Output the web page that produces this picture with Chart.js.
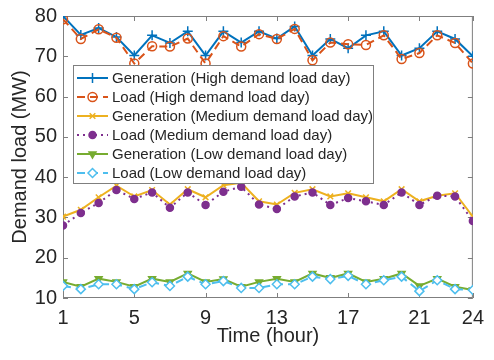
<!DOCTYPE html>
<html>
<head>
<meta charset="utf-8">
<script src="https://cdn.jsdelivr.net/npm/chart.js@4"></script>
<style>
  html, body { margin: 0; padding: 0; background: #fff; }
  #wrap { width: 494px; height: 360px; }
</style>
</head>
<body>
<div id="wrap"><canvas id="chart" width="494" height="360"></canvas></div>
<script>
// hours on the x axis
const hours = [1,2,3,4,5,6,7,8,9,10,11,12,13,14,15,16,17,18,19,20,21,22,23,24];
const xTicks = [1, 5, 9, 13, 17, 21, 24];
const yTicks = [10, 20, 30, 40, 50, 60, 70, 80];

// High demand load day
const genHigh  = [80, 75.3, 77, 74.8, 70.2, 75.2, 73.3, 76.2, 70.2, 76.2, 73.4, 76.2, 74.4, 77.4, 70.2, 74.3, 72, 75.2, 76.2, 70.2, 72, 76.2, 74.3, 70];
const loadHigh = [79.2, 74.3, 76.7, 74.6, 68.2, 72.5, 72.4, 74.4, 68.2, 75, 72.4, 75.5, 74.3, 76.8, 69, 73.4, 73, 72.8, 75.2, 69.3, 70.8, 75.2, 73.3, 68.2];
// Medium demand load day
const genMed   = [30.2, 31.9, 35, 37.9, 35.2, 36.8, 33.2, 37, 35, 38, 38.6, 34, 33.2, 36.1, 37, 35.2, 36, 35, 34, 37, 34, 35.4, 36, 30.2];
const loadMed  = [28, 31.1, 33.6, 36.8, 34.6, 36.2, 32.4, 36.2, 33.1, 36.4, 37.6, 33.2, 32.1, 35.2, 36.2, 33.1, 34.8, 34, 33.1, 36.2, 33.1, 35.4, 35.2, 29.1];
// Low demand load day
const genLow   = [14, 12.8, 14.8, 14, 12.8, 14.8, 14, 16.1, 14, 14.7, 12.8, 14, 14.8, 14, 16.1, 15, 16.1, 14, 14.8, 16.1, 13, 14.8, 12.8, 12];
const loadLow  = [13, 12.2, 13.4, 13.4, 12.2, 13.9, 13, 15.3, 13.4, 14.2, 12.5, 12.5, 13.4, 13.4, 15.3, 14.7, 15.5, 13.4, 14.4, 15.3, 11.7, 14.4, 12.2, 12];

const seriesNames = [
  "Generation (High demand load day)",
  "Load (High demand load day)",
  "Generation (Medium demand load day)",
  "Load (Medium demand load day)",
  "Generation (Low demand load day)",
  "Load (Low demand load day)"
];

const FONT = "'Liberation Sans', Arial, sans-serif";
const AXIS = "#262626";

function pts(vals) {
  return vals.map((v, i) => ({ x: hours[i], y: v }));
}

function ds(i, vals, color, opts) {
  return Object.assign({
    label: seriesNames[i],
    data: pts(vals),
    borderColor: color,
    backgroundColor: color,
    pointBorderColor: color,
    pointBackgroundColor: color,
    borderWidth: 2,
    pointBorderWidth: 1.5,
    tension: 0,
    fill: false,
    order: -i
  }, opts);
}

const datasets = [
  ds(0, genHigh, "#0072BD", { pointStyle: "cross", pointRadius: 5 }),
  ds(1, loadHigh, "#D95319", { borderDash: [8, 5], pointStyle: "circle", pointRadius: 4.5, pointBackgroundColor: "rgba(255,255,255,0)" }),
  ds(2, genMed, "#EDB120", { pointStyle: "crossRot", pointRadius: 4 }),
  ds(3, loadMed, "#7E2F8E", { borderDash: [2, 4], pointStyle: "circle", pointRadius: 3.5 }),
  ds(4, genLow, "#77AC30", { pointStyle: "triangle", pointRotation: 180, pointRadius: 4 }),
  ds(5, loadLow, "#4DBEEE", { borderDash: [8, 5], pointStyle: "rectRot", pointRadius: 4.5, pointBackgroundColor: "#fff" })
];

// box around the axes plus inward ticks, like MATLAB
const boxPlugin = {
  id: "box",
  beforeDatasetsDraw(chart) {
    const { ctx, chartArea: a, scales } = chart;
    ctx.save();
    ctx.strokeStyle = "#7f7f7f";
    ctx.lineWidth = 1;
    ctx.strokeRect(a.left + 0.5, a.top + 0.5, a.right - a.left - 1, a.bottom - a.top - 1);
    ctx.beginPath();
    xTicks.forEach(v => {
      const x = Math.round(scales.x.getPixelForValue(v)) + 0.5;
      ctx.moveTo(x, a.bottom); ctx.lineTo(x, a.bottom - 5);
      ctx.moveTo(x, a.top); ctx.lineTo(x, a.top + 5);
    });
    yTicks.forEach(v => {
      const y = Math.round(scales.y.getPixelForValue(v)) + 0.5;
      ctx.moveTo(a.left, y); ctx.lineTo(a.left + 5, y);
      ctx.moveTo(a.right, y); ctx.lineTo(a.right - 5, y);
    });
    ctx.stroke();
    ctx.restore();
  }
};

// legend box inside the plot
const legendPlugin = {
  id: "boxLegend",
  afterDraw(chart) {
    const { ctx } = chart;
    const x0 = 73, y0 = 65, w = 300, rowH = 19;
    const n = chart.data.datasets.length;
    const h = 13 + rowH * (n - 1) + 10;
    ctx.save();
    ctx.fillStyle = "#fff";
    ctx.fillRect(x0, y0, w, h);
    ctx.strokeStyle = "#7f7f7f";
    ctx.lineWidth = 1;
    ctx.strokeRect(x0 + 0.5, y0 + 0.5, w, h);
    ctx.font = "15px " + FONT;
    ctx.textBaseline = "middle";
    chart.data.datasets.forEach((d, i) => {
      const cy = y0 + 13 + i * rowH;
      const lx1 = x0 + 4, lx2 = x0 + 35;
      ctx.strokeStyle = d.borderColor;
      ctx.lineWidth = d.borderWidth;
      ctx.setLineDash(d.borderDash || []);
      ctx.beginPath();
      ctx.moveTo(lx1, cy); ctx.lineTo(lx2, cy);
      ctx.stroke();
      ctx.setLineDash([]);
      ctx.fillStyle = d.pointBackgroundColor;
      ctx.strokeStyle = d.borderColor;
      ctx.lineWidth = d.pointBorderWidth;
      Chart.helpers.drawPoint(ctx, {
        pointStyle: d.pointStyle,
        radius: d.pointRadius,
        rotation: d.pointRotation || 0,
        borderWidth: d.pointBorderWidth
      }, (lx1 + lx2) / 2, cy);
      ctx.fillStyle = AXIS;
      ctx.fillText(d.label, x0 + 39, cy + 1);
    });
    ctx.restore();
  }
};

new Chart(document.getElementById("chart").getContext("2d"), {
  type: "line",
  data: { datasets },
  plugins: [boxPlugin, legendPlugin],
  options: {
    responsive: false,
    animation: false,
    layout: { padding: { left: 0, right: 11, top: 14, bottom: 0 } },
    plugins: { legend: { display: false }, tooltip: { enabled: false } },
    scales: {
      x: {
        type: "linear",
        min: 1,
        max: 24,
        afterBuildTicks: s => { s.ticks = xTicks.map(v => ({ value: v })); },
        afterFit: s => { s.height = 62; },
        grid: { display: false, drawTicks: false },
        border: { display: false },
        ticks: { color: AXIS, font: { family: FONT, size: 20, lineHeight: 1 }, padding: 10, maxRotation: 0 },
        title: { display: true, text: "Time (hour)", color: AXIS, font: { family: FONT, size: 20, lineHeight: 1 }, padding: { top: 0, bottom: 14 } }
      },
      y: {
        min: 10,
        max: 80,
        afterBuildTicks: s => { s.ticks = yTicks.map(v => ({ value: v })); },
        afterFit: s => { s.width = 63; },
        grid: { display: false, drawTicks: false },
        border: { display: false },
        ticks: { color: AXIS, font: { family: FONT, size: 20, lineHeight: 1 }, padding: 6 },
        title: { display: true, text: "Demand load (MW)", color: AXIS, font: { family: FONT, size: 20, lineHeight: 1 }, padding: { top: 10, bottom: 0 } }
      }
    }
  }
});
</script>
</body>
</html>
